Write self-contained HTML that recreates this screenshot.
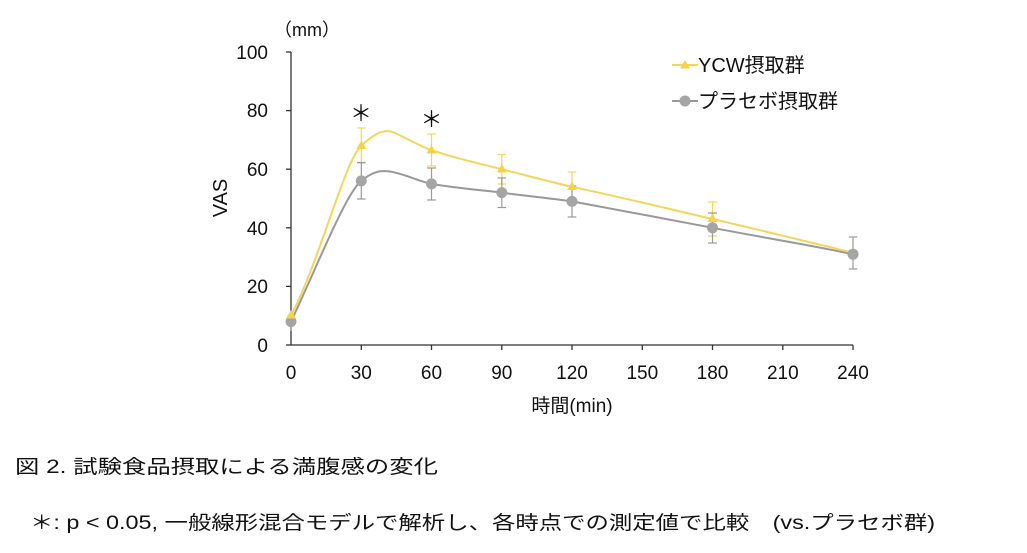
<!DOCTYPE html>
<html><head><meta charset="utf-8">
<style>
html,body{margin:0;padding:0;background:#fff;}
svg{display:block;}
text{font-family:"Liberation Sans","Noto Sans CJK JP",sans-serif;fill:#111;}
</style></head>
<body>
<svg width="1027" height="553" viewBox="0 0 1027 553" xmlns="http://www.w3.org/2000/svg">
<g stroke="#333" stroke-width="1.3" fill="none">
<line x1="291" y1="52" x2="291" y2="345"/>
<line x1="291" y1="345" x2="853" y2="345"/>
<line x1="286" y1="52" x2="291" y2="52"/>
<line x1="286" y1="110.6" x2="291" y2="110.6"/>
<line x1="286" y1="169.2" x2="291" y2="169.2"/>
<line x1="286" y1="227.8" x2="291" y2="227.8"/>
<line x1="286" y1="286.4" x2="291" y2="286.4"/>
<line x1="286" y1="345" x2="291" y2="345"/>
<line x1="361.3" y1="345" x2="361.3" y2="350"/>
<line x1="431.5" y1="345" x2="431.5" y2="350"/>
<line x1="501.8" y1="345" x2="501.8" y2="350"/>
<line x1="572" y1="345" x2="572" y2="350"/>
<line x1="642.3" y1="345" x2="642.3" y2="350"/>
<line x1="712.5" y1="345" x2="712.5" y2="350"/>
<line x1="782.8" y1="345" x2="782.8" y2="350"/>
<line x1="853" y1="345" x2="853" y2="350"/>
</g>
<g font-size="19" text-anchor="end">
<text x="268" y="59">100</text>
<text x="268" y="117">80</text>
<text x="268" y="176">60</text>
<text x="268" y="235">40</text>
<text x="268" y="293">20</text>
<text x="268" y="352">0</text>
</g>
<g font-size="19" text-anchor="middle">
<text x="291" y="379">0</text>
<text x="361.3" y="379">30</text>
<text x="431.5" y="379">60</text>
<text x="501.8" y="379">90</text>
<text x="572" y="379">120</text>
<text x="642.3" y="379">150</text>
<text x="712.5" y="379">180</text>
<text x="782.8" y="379">210</text>
<text x="853" y="379">240</text>
<text x="572" y="412">時間(min)</text>
</g>
<text x="0" y="0" font-size="20" text-anchor="middle" transform="translate(227,198) rotate(-90)">VAS</text>
<text x="274" y="36" font-size="18">（mm）</text>
<g stroke="#f3d65a" stroke-width="1.2">
<line x1="361.3" y1="128" x2="361.3" y2="163"/><line x1="357" y1="128" x2="365.6" y2="128"/><line x1="357" y1="163" x2="365.6" y2="163"/>
<line x1="431.5" y1="134" x2="431.5" y2="166"/><line x1="427" y1="134" x2="436" y2="134"/><line x1="427" y1="166" x2="436" y2="166"/>
<line x1="501.8" y1="154.5" x2="501.8" y2="184"/><line x1="497.5" y1="154.5" x2="506" y2="154.5"/><line x1="497.5" y1="184" x2="506" y2="184"/>
<line x1="572" y1="172" x2="572" y2="201.5"/><line x1="567.7" y1="172" x2="576.3" y2="172"/><line x1="567.7" y1="201.5" x2="576.3" y2="201.5"/>
<line x1="712.5" y1="202" x2="712.5" y2="236"/><line x1="708" y1="202" x2="717" y2="202"/><line x1="708" y1="236" x2="717" y2="236"/>
</g>
<g stroke="#999" stroke-width="1.2">
<line x1="291" y1="312" x2="291" y2="331"/>
<line x1="361.3" y1="162.5" x2="361.3" y2="199"/><line x1="357" y1="162.5" x2="365.6" y2="162.5"/><line x1="357" y1="199" x2="365.6" y2="199"/>
<line x1="431.5" y1="168" x2="431.5" y2="200"/><line x1="427" y1="168" x2="436" y2="168"/><line x1="427" y1="200" x2="436" y2="200"/>
<line x1="501.8" y1="178" x2="501.8" y2="207.5"/><line x1="497.5" y1="178" x2="506" y2="178"/><line x1="497.5" y1="207.5" x2="506" y2="207.5"/>
<line x1="572" y1="186" x2="572" y2="217"/><line x1="567.7" y1="186" x2="576.3" y2="186"/><line x1="567.7" y1="217" x2="576.3" y2="217"/>
<line x1="712.5" y1="213" x2="712.5" y2="243"/><line x1="708" y1="213" x2="717" y2="213"/><line x1="708" y1="243" x2="717" y2="243"/>
<line x1="853" y1="237" x2="853" y2="269"/><line x1="848.7" y1="237" x2="857.3" y2="237"/><line x1="848.7" y1="269" x2="857.3" y2="269"/>
</g>
<path d="M291,321.6 C320,260 345,195 361.3,180.9 C372,172 380,170 390,171.5 C405,174 418,181 431.5,183.9 C455,188 480,190 501.8,192.6 C525,196 550,198 572,201.4 C620,210 665,219 712.5,227.8 C760,237 810,245 853,254.2" fill="none" stroke="#999" stroke-width="2"/>
<path d="M291,315.7 C320,260 345,160 361.3,145.8 C375,133 385,128 395,133 C410,140 420,146 431.5,150.2 C455,158 480,164 501.8,169.2 C525,175 550,182 572,186.8 C620,197 665,208 712.5,219 C760,230 810,242 853,252.7" fill="none" stroke="#f3d65a" stroke-width="2"/>
<g fill="#a5a5a5">
<circle cx="291" cy="321.6" r="5.5"/><circle cx="361.3" cy="180.9" r="5.5"/><circle cx="431.5" cy="183.9" r="5.5"/>
<circle cx="501.8" cy="192.6" r="5.5"/><circle cx="572" cy="201.4" r="5.5"/><circle cx="712.5" cy="227.8" r="5.5"/><circle cx="853" cy="254.2" r="5.5"/>
</g>
<g fill="#f5d24a">
<polygon points="291,310 286,318.5 296,318.5"/>
<polygon points="361.3,140.5 356.3,149 366.3,149"/>
<polygon points="431.5,145 426.5,153.5 436.5,153.5"/>
<polygon points="501.8,164 496.8,172.5 506.8,172.5"/>
<polygon points="572,181.5 567,190 577,190"/>
<polygon points="712.5,213.5 707.5,222 717.5,222"/>
</g>
<text x="361" y="121" font-size="22" text-anchor="middle">＊</text>
<text x="431.5" y="127" font-size="22" text-anchor="middle">＊</text>
<line x1="672" y1="65" x2="698" y2="65" stroke="#f3d65a" stroke-width="2"/>
<polygon points="685,60 680,68.5 690,68.5" fill="#f5d24a"/>
<text x="698" y="72" font-size="20">YCW摂取群</text>
<line x1="672" y1="101" x2="698" y2="101" stroke="#999" stroke-width="2"/>
<circle cx="685" cy="101" r="5.5" fill="#a5a5a5"/>
<text x="698" y="108" font-size="20">プラセボ摂取群</text>
<text x="15" y="473" font-size="19" fill="#333" textLength="423" lengthAdjust="spacingAndGlyphs">図 2. 試験食品摂取による満腹感の変化</text>
<text x="30" y="529" font-size="19" fill="#333" textLength="905" lengthAdjust="spacingAndGlyphs">＊: p &lt; 0.05, 一般線形混合モデルで解析し、各時点での測定値で比較　(vs.プラセボ群)</text>
</svg>
</body></html>
